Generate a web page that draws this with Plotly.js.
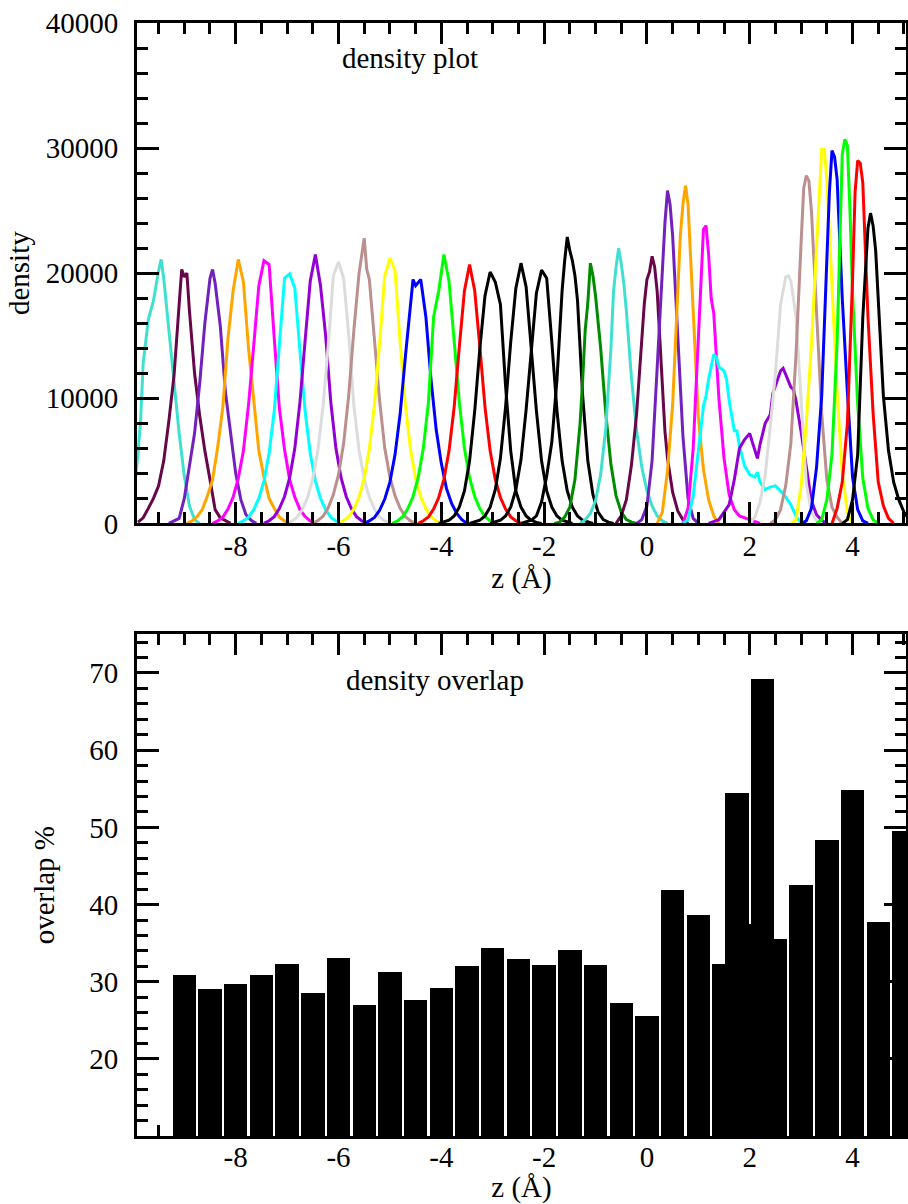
<!DOCTYPE html>
<html>
<head>
<meta charset="utf-8">
<script src="https://cdn.plot.ly/plotly-3.0.1.min.js"></script>
<style>html,body{margin:0;padding:0;background:#fff}#chart{width:908px;height:1204px}</style>
</head>
<body>
<div id="chart"></div>
<script>
// ---------- density plot data (one entry per umbrella window) ----------
const densityColors = [
  '#40E0D0','#670748','#7221BC','#FFA500','#FF00FF','#00FFFF','#9400D3','#DCDCDC',
  '#BC8F8F','#FFFF00','#0000FF','#00FF00','#FF0000','#000000','#000000','#000000',
  '#000000','#008B00','#40E0D0','#670748','#7221BC','#FFA500','#FF00FF','#00FFFF',
  '#9400D3','#DCDCDC','#BC8F8F','#FFFF00','#0000FF','#00FF00','#FF0000','#000000'
];
const densityZ = [
  [-9.95,-9.9,-9.85,-9.8,-9.7,-9.6,-9.5,-9.45,-9.4,-9.3,-9.2,-9.1,-9.0,-8.9,-8.8,-8.7],
  [-9.9,-9.8,-9.7,-9.6,-9.5,-9.4,-9.3,-9.2,-9.1,-9.05,-9.0,-8.95,-8.9,-8.8,-8.7,-8.6,-8.5,-8.4,-8.3,-8.2,-8.1],
  [-9.3,-9.1,-9.0,-8.9,-8.8,-8.7,-8.6,-8.5,-8.45,-8.4,-8.3,-8.2,-8.1,-8.0,-7.9,-7.8,-7.7,-7.6],
  [-8.95,-8.85,-8.75,-8.65,-8.55,-8.45,-8.35,-8.25,-8.15,-8.05,-7.95,-7.85,-7.75,-7.65,-7.55,-7.45,-7.35,-7.25,-7.15,-7.05,-6.95],
  [-8.45,-8.35,-8.25,-8.15,-8.05,-7.95,-7.85,-7.75,-7.65,-7.55,-7.45,-7.35,-7.25,-7.15,-7.05,-6.95,-6.85,-6.75,-6.65,-6.55,-6.45],
  [-7.95,-7.85,-7.75,-7.65,-7.55,-7.45,-7.35,-7.25,-7.15,-7.05,-6.95,-6.85,-6.75,-6.65,-6.55,-6.45,-6.35,-6.25,-6.15,-6.05,-5.95],
  [-7.45,-7.35,-7.25,-7.15,-7.05,-6.95,-6.85,-6.75,-6.65,-6.55,-6.45,-6.35,-6.25,-6.15,-6.05,-5.95,-5.85,-5.75,-5.65,-5.55,-5.45],
  [-7.0,-6.9,-6.8,-6.7,-6.6,-6.5,-6.4,-6.3,-6.2,-6.1,-6.0,-5.9,-5.8,-5.7,-5.6,-5.5,-5.4,-5.3,-5.2,-5.1,-5.0],
  [-6.5,-6.4,-6.3,-6.2,-6.1,-6.0,-5.9,-5.8,-5.7,-5.6,-5.5,-5.45,-5.4,-5.3,-5.2,-5.1,-5.0,-4.9,-4.8,-4.7,-4.6,-4.5],
  [-6.0,-5.9,-5.8,-5.7,-5.6,-5.5,-5.4,-5.3,-5.2,-5.1,-5.0,-4.9,-4.8,-4.7,-4.6,-4.5,-4.4,-4.3,-4.2,-4.1,-4.0],
  [-5.5,-5.4,-5.3,-5.2,-5.1,-5.0,-4.9,-4.8,-4.7,-4.6,-4.55,-4.5,-4.45,-4.4,-4.3,-4.2,-4.1,-4.0,-3.9,-3.8,-3.7,-3.6,-3.5],
  [-4.95,-4.85,-4.75,-4.65,-4.55,-4.45,-4.35,-4.25,-4.15,-4.05,-3.95,-3.85,-3.75,-3.65,-3.55,-3.45,-3.35,-3.25,-3.15,-3.05,-2.95],
  [-4.45,-4.35,-4.25,-4.15,-4.05,-3.95,-3.85,-3.75,-3.65,-3.55,-3.45,-3.35,-3.25,-3.15,-3.05,-2.95,-2.85,-2.75,-2.65,-2.55,-2.45],
  [-4.05,-3.95,-3.85,-3.75,-3.65,-3.55,-3.45,-3.35,-3.25,-3.15,-3.05,-2.95,-2.85,-2.75,-2.65,-2.55,-2.45,-2.35,-2.25,-2.15,-2.05],
  [-3.45,-3.35,-3.25,-3.15,-3.05,-2.95,-2.85,-2.75,-2.65,-2.55,-2.45,-2.35,-2.25,-2.15,-2.05,-1.95,-1.85,-1.75,-1.65,-1.55,-1.45],
  [-3.05,-2.95,-2.85,-2.75,-2.65,-2.55,-2.45,-2.35,-2.25,-2.15,-2.05,-1.95,-1.85,-1.75,-1.65,-1.55,-1.45,-1.35,-1.25,-1.15,-1.05],
  [-2.45,-2.35,-2.25,-2.15,-2.05,-1.95,-1.85,-1.75,-1.65,-1.6,-1.55,-1.5,-1.45,-1.4,-1.35,-1.25,-1.15,-1.05,-0.95,-0.85,-0.75,-0.65],
  [-1.8,-1.7,-1.6,-1.5,-1.4,-1.35,-1.3,-1.25,-1.2,-1.15,-1.1,-1.05,-1.0,-0.9,-0.8,-0.7,-0.6,-0.5,-0.4,-0.3,-0.2],
  [-1.3,-1.2,-1.1,-1.0,-0.9,-0.8,-0.7,-0.65,-0.6,-0.55,-0.5,-0.45,-0.4,-0.3,-0.2,-0.1,0.0,0.1,0.2,0.3,0.4],
  [-0.6,-0.5,-0.4,-0.3,-0.2,-0.1,-0.05,0.0,0.05,0.1,0.15,0.2,0.25,0.3,0.35,0.4,0.5,0.6,0.7,0.8],
  [-0.2,-0.1,0.0,0.1,0.2,0.3,0.35,0.4,0.45,0.5,0.55,0.6,0.7,0.8,0.9,1.0],
  [0.2,0.3,0.4,0.5,0.6,0.65,0.7,0.75,0.8,0.85,0.9,1.0,1.1,1.2,1.3,1.4],
  [0.7,0.8,0.9,1.0,1.05,1.1,1.15,1.2,1.25,1.3,1.4,1.5,1.6,1.7,1.8,2.0,2.2],
  [0.7,0.8,0.9,1.0,1.1,1.15,1.2,1.3,1.35,1.4,1.5,1.55,1.6,1.7,1.75,1.8,1.9,2.0,2.1,2.15,2.2,2.3,2.4,2.5,2.6,2.7,2.8,2.9,3.0],
  [1.2,1.4,1.5,1.6,1.7,1.8,1.9,2.0,2.05,2.1,2.15,2.2,2.3,2.4,2.45,2.5,2.6,2.65,2.7,2.8,2.85,2.9,3.0,3.1,3.2,3.3,3.4,3.5],
  [2.0,2.1,2.2,2.3,2.4,2.5,2.6,2.7,2.75,2.8,2.9,3.0,3.1,3.2,3.3,3.4],
  [2.4,2.5,2.6,2.7,2.8,2.9,3.0,3.05,3.1,3.15,3.2,3.3,3.4,3.5,3.6,3.7,3.8],
  [2.8,2.9,3.0,3.1,3.2,3.3,3.4,3.45,3.5,3.6,3.7,3.8,3.9,4.0],
  [3.0,3.1,3.2,3.3,3.4,3.5,3.55,3.6,3.65,3.7,3.8,3.9,4.0,4.1,4.2,4.3],
  [3.3,3.4,3.5,3.6,3.7,3.75,3.8,3.85,3.9,3.95,4.0,4.1,4.2,4.3,4.4,4.5],
  [3.6,3.7,3.8,3.9,4.0,4.05,4.1,4.15,4.2,4.3,4.4,4.5,4.6,4.7,4.8],
  [3.8,3.9,4.0,4.1,4.2,4.25,4.3,4.35,4.4,4.45,4.5,4.6,4.7,4.8,4.9,5.0,5.1]
];
const densityVal = [
  [3600,5600,8200,12800,16300,17800,20200,21100,19600,15500,11300,7200,3800,1400,300,0],
  [100,450,1200,2000,3000,5000,8200,11800,17500,20300,19700,20000,17000,12000,8600,5800,3500,1100,450,200,0],
  [0,400,2000,4500,7200,11200,16000,19600,20300,19200,15800,10500,7300,4000,1900,700,250,0],
  [0,200,550,1100,2200,3500,6100,9300,14800,18600,21100,19300,14000,9700,5800,3700,2000,1200,500,200,0],
  [0,200,500,1150,2100,3600,5800,9500,14200,19000,21000,20700,14800,9200,5900,3500,2100,1100,550,200,0],
  [0,200,500,1100,2000,3400,5600,9000,14300,19600,19950,18800,13800,9000,5600,3400,2000,1100,500,200,0],
  [0,210,540,1180,2150,3650,6000,9700,14600,19350,21500,19000,15000,9700,6000,3650,2150,1180,540,210,0],
  [0,200,520,1150,2100,3550,5850,9400,14200,19800,20900,19600,15000,9400,5850,3550,2100,1150,520,200,0],
  [0,230,570,1250,2300,3900,6400,10300,15500,20000,22800,20300,19500,14500,9800,6000,3700,2200,1200,550,200,0],
  [0,210,530,1170,2120,3600,5940,9540,14400,19800,21200,20200,14400,9540,5940,3600,2120,1170,530,210,0],
  [0,200,480,1050,1950,3300,5500,8800,13300,17800,19500,19000,19300,19500,16500,11500,7500,4800,2800,1600,800,300,0],
  [0,215,540,1180,2150,3650,6000,9700,16500,18600,21500,19350,14600,9700,6000,3650,2150,1180,540,215,0],
  [0,210,520,1140,2070,3520,5800,9300,14100,18600,20700,18600,14100,9300,5800,3520,2070,1140,520,210,0],
  [0,100,250,600,1300,2600,5000,9000,14000,18200,20100,19300,17500,11000,5800,2600,1300,600,250,80,0],
  [0,100,250,600,1300,2700,5200,9300,14500,18800,20800,18900,14200,9000,5000,2600,1300,600,250,100,0],
  [0,100,250,600,1300,2700,5100,9100,14000,18400,20250,19600,14500,9000,5000,2600,1300,600,250,100,0],
  [0,100,250,600,1700,3800,6500,11500,18600,21000,22900,21800,21000,19800,17800,10200,5000,2300,900,300,100,0],
  [0,100,500,1300,3500,5500,8000,11500,15500,17600,20800,19800,18200,14000,8800,4700,2200,900,300,100,0],
  [0,300,800,1800,3900,7600,14000,18500,20500,22000,20800,19200,17000,11600,7400,4500,2600,1400,600,200,0],
  [0,600,1900,4700,8800,14500,17600,19500,20100,21350,20500,18500,14500,11000,7400,5200,2500,1000,300,0],
  [0,300,1400,5000,12500,20000,24000,26600,25500,23000,19000,14800,7000,2000,400,0],
  [0,900,4200,9500,18500,23000,25500,27000,25500,21500,17000,8500,4300,1900,600,0],
  [0,1200,6000,14300,19000,23500,23800,21500,18000,16800,10000,5200,2300,1100,600,300,0],
  [0,300,2200,6000,9400,10200,11500,13500,13300,12500,12200,11500,9800,7400,7400,6200,4600,3900,3700,4100,3300,2700,2900,3000,2600,2100,1500,600,0],
  [0,300,900,1500,3500,6000,6700,7200,6500,5800,5200,6300,8000,8700,10400,11000,12200,12400,11900,10900,10700,9800,7300,4400,1800,700,250,0],
  [0,500,1700,3800,7800,12000,17500,19700,19800,19400,16500,9500,3200,900,200,0],
  [0,300,1100,3000,6400,13500,22500,26800,27800,27400,25000,17000,8800,3500,1300,500,0],
  [0,300,3000,8000,14300,22500,29900,29900,27500,19000,10500,4000,900,0],
  [0,200,1200,4500,10200,21000,26500,29800,29300,27500,18000,10500,3700,1100,200,0],
  [0,300,1900,5500,14500,22500,29500,30700,30200,25000,18500,9500,3600,1200,300,0],
  [0,1200,3300,8000,19500,26500,29000,28800,27200,16500,8800,3300,1400,400,0],
  [0,300,1900,5500,16500,20500,23600,24800,23800,21800,18000,10200,5800,3300,1900,900,300]
];

// ---------- density overlap data ----------
const overlapZ = [-9,-8.5,-8,-7.5,-7,-6.5,-6,-5.5,-5,-4.5,-4,-3.5,-3,-2.5,-2,-1.5,-1,-0.5,0,0.5,1,1.5,2,2.5,3,3.5,4,4.5,5];
const overlapVal = [30.9,29.0,29.7,30.9,32.3,28.5,33.1,27.0,31.2,27.7,29.2,32.1,34.4,32.9,32.2,34.1,32.2,27.3,25.6,41.9,38.6,32.3,37.5,35.5,42.5,48.3,54.8,37.7,49.5];
const extraZ = [1.75, 2.25];
const extraVal = [54.4, 69.2];

// tick labels (plain hyphen minus, as in the original)
const zTickVals = [-8, -6, -4, -2, 0, 2, 4];
const zTickText = ['-8', '-6', '-4', '-2', '0', '2', '4'];

const FONT = 'Liberation Serif, Times New Roman, serif';
const traces = [];
for (let i = 0; i < densityZ.length; i++) {
  traces.push({
    type: 'scatter', mode: 'lines', x: densityZ[i], y: densityVal[i],
    line: {color: densityColors[i], width: 3},
    xaxis: 'x', yaxis: 'y', hoverinfo: 'skip', showlegend: false
  });
}
traces.push({type: 'bar', x: overlapZ, y: overlapVal, width: 0.455,
  marker: {color: '#000000', line: {width: 0}}, xaxis: 'x2', yaxis: 'y2', showlegend: false});
traces.push({type: 'bar', x: extraZ, y: extraVal, width: 0.455,
  marker: {color: '#000000', line: {width: 0}}, xaxis: 'x2', yaxis: 'y2', showlegend: false});

function xAxis(anchor, layer, standoffLabels, standoffTitle) {
  return {
    anchor: anchor, domain: [0, 1], range: [-9.92, 5.04],
    showline: true, linecolor: '#000', linewidth: 3, mirror: 'allticks',
    ticks: 'inside', ticklen: 21, tickwidth: 3, tickcolor: '#000',
    tickmode: 'array', tickvals: zTickVals, ticktext: zTickText,
    showgrid: false, zeroline: false,
    minor: {ticks: 'inside', ticklen: 11, tickwidth: 3, tickcolor: '#000',
            tickmode: 'linear', dtick: 0.5, tick0: 0, showgrid: false},
    tickfont: {family: FONT, size: 29, color: '#000'},
    ticklabelstandoff: standoffLabels,
    layer: layer,
    title: {text: 'z (Å)', font: {family: FONT, size: 29, color: '#000'}, standoff: standoffTitle}
  };
}

const layout = {
  width: 908, height: 1204,
  margin: {l: 137, r: 2, t: 23, b: 68},
  paper_bgcolor: '#fff', plot_bgcolor: '#fff',
  showlegend: false, bargap: 0, barmode: 'overlay',
  xaxis: xAxis('y', 'above traces', -5, 0),
  xaxis2: xAxis('y2', 'below traces', -7, 0),
  yaxis: {
    domain: [0.5504, 1], range: [0, 40000], anchor: 'x',
    showline: true, linecolor: '#000', linewidth: 3, mirror: 'allticks',
    ticks: 'inside', ticklen: 22, tickwidth: 3, tickcolor: '#000',
    tick0: 0, dtick: 10000, tickformat: 'd', showgrid: false, zeroline: false,
    minor: {ticks: 'inside', ticklen: 11, tickwidth: 3, tickcolor: '#000', dtick: 2000, tick0: 0, showgrid: false},
    tickfont: {family: FONT, size: 29, color: '#000'},
    ticklabelstandoff: 10,
    title: {text: 'density', font: {family: FONT, size: 29, color: '#000'}, standoff: 8}
  },
  yaxis2: {
    domain: [0, 0.4507], range: [10.02, 75], anchor: 'x2',
    showline: true, linecolor: '#000', linewidth: 3, mirror: 'allticks',
    ticks: 'inside', ticklen: 22, tickwidth: 3, tickcolor: '#000',
    tick0: 0, dtick: 10, showgrid: false, zeroline: false,
    minor: {ticks: 'inside', ticklen: 11, tickwidth: 3, tickcolor: '#000', dtick: 2, tick0: 0, showgrid: false},
    tickfont: {family: FONT, size: 29, color: '#000'},
    ticklabelstandoff: 10,
    layer: 'below traces',
    title: {text: 'overlap %', font: {family: FONT, size: 29, color: '#000'}, standoff: 27}
  },
  annotations: [
    {text: 'density plot', xref: 'x', yref: 'y', x: -4.6, y: 37200, showarrow: false,
     font: {family: FONT, size: 29, color: '#000'}},
    {text: 'density overlap', xref: 'x2', yref: 'y2', x: -4.12, y: 69.1, showarrow: false,
     font: {family: FONT, size: 29, color: '#000'}}
  ]
};

Plotly.newPlot('chart', traces, layout, {staticPlot: true, displayModeBar: false});
</script>
</body>
</html>
